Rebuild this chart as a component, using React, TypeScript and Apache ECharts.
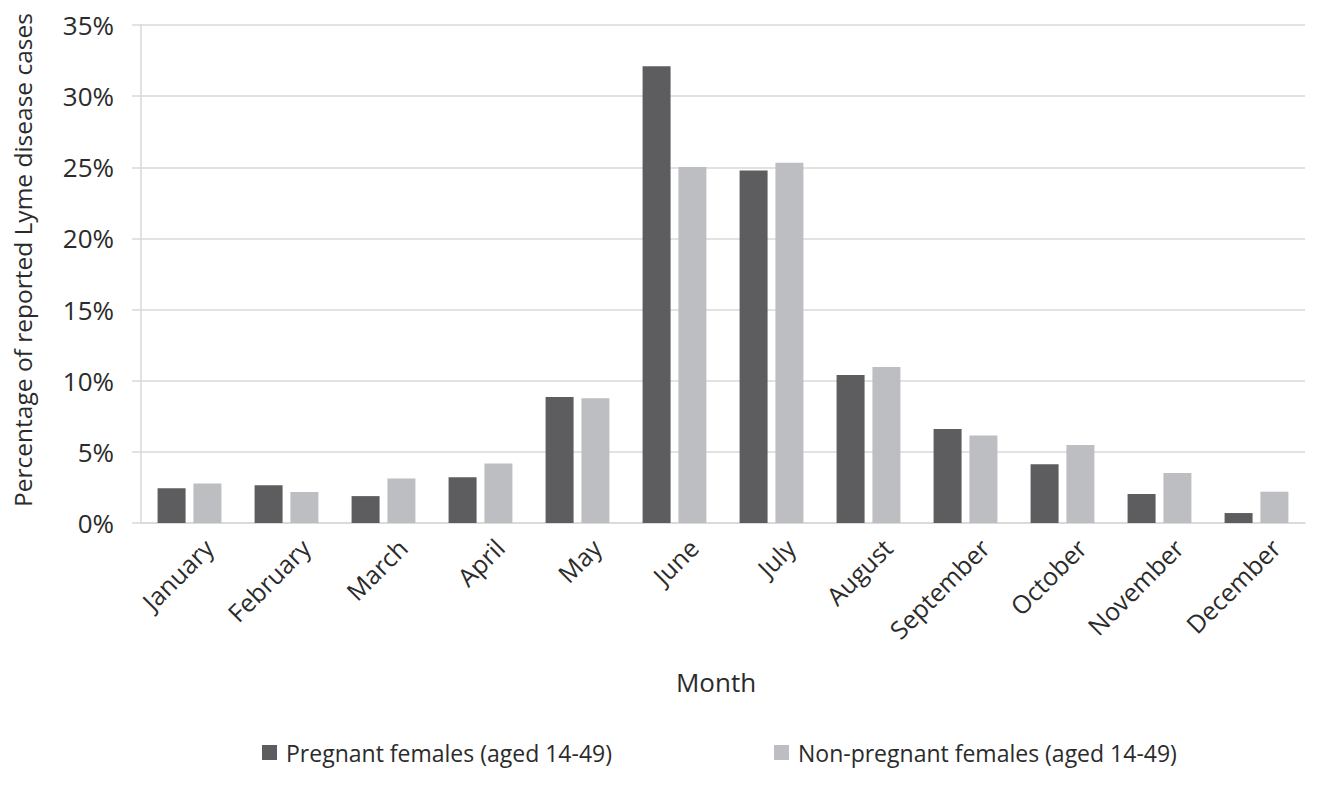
import React, { useEffect, useRef } from "react";
import * as echarts from "echarts";

const months = [
  "January", "February", "March", "April", "May", "June",
  "July", "August", "September", "October", "November", "December",
];
const pregnant = [2.44, 2.66, 1.89, 3.21, 8.85, 32.1, 24.78, 10.4, 6.6, 4.13, 2.04, 0.7];
const nonPregnant = [2.78, 2.18, 3.12, 4.18, 8.77, 25.02, 25.31, 10.96, 6.15, 5.49, 3.52, 2.2];
const seriesNames = ["Pregnant females (aged 14-49)", "Non-pregnant females (aged 14-49)"];
const yTicks = [0, 5, 10, 15, 20, 25, 30, 35];

const FONT = "'Open Sans', sans-serif";
const TEXT = "#2b2b2b";
const GRID = "#d9d9d9";

export default function App() {
  const ref = useRef<HTMLDivElement>(null);
  useEffect(() => {
    document.body.style.margin = "0";
    const chart = echarts.init(ref.current!, null, { renderer: "svg" });
    chart.setOption({
      animation: false,
      backgroundColor: "#ffffff",
      textStyle: { fontFamily: FONT, color: TEXT },
      grid: { left: 141, top: 25, width: 1164, height: 498, containLabel: false },
      legend: {
        left: 257,
        top: 736,
        padding: 5,
        itemWidth: 15,
        itemHeight: 15,
        itemGap: 162,
        icon: "rect",
        textStyle: { fontFamily: FONT, fontSize: 23, color: TEXT, padding: [0, 0, 0, 4] },
        data: seriesNames,
      },
      xAxis: {
        type: "category",
        data: months,
        name: "Month",
        nameLocation: "middle",
        nameGap: 146,
        nameTextStyle: { fontFamily: FONT, fontSize: 26, color: TEXT, padding: [0, 14, 0, 0] },
        axisLine: { lineStyle: { color: GRID, width: 1.5 } },
        axisTick: { show: false },
        axisLabel: {
          interval: 0,
          rotate: 45,
          margin: 1,
          align: "right",
          verticalAlign: "top",
          lineHeight: 54,
          fontFamily: FONT,
          fontSize: 25,
          color: TEXT,
        },
      },
      yAxis: {
        type: "value",
        min: yTicks[0],
        max: yTicks[yTicks.length - 1],
        interval: 5,
        name: "Percentage of reported Lyme disease cases",
        nameLocation: "middle",
        nameGap: 106,
        nameTextStyle: { fontFamily: FONT, fontSize: 24.5, color: TEXT, padding: [0, 0, 0, 28] },
        axisLine: { show: true, lineStyle: { color: GRID, width: 1.5 } },
        axisTick: { show: true, length: 9, lineStyle: { color: GRID, width: 1.5 } },
        splitLine: { lineStyle: { color: GRID, width: 1.5 } },
        axisLabel: {
          formatter: "{value}%",
          margin: 27,
          fontFamily: FONT,
          fontSize: 26,
          color: TEXT,
        },
      },
      series: [
        {
          name: seriesNames[0],
          type: "bar",
          data: pregnant,
          barWidth: 28,
          barGap: "28%",
          itemStyle: { color: "#5d5d5f" },
        },
        {
          name: seriesNames[1],
          type: "bar",
          data: nonPregnant,
          barWidth: 28,
          itemStyle: { color: "#bdbec1" },
        },
      ],
    });
    return () => chart.dispose();
  }, []);
  return <div ref={ref} style={{ width: 1323, height: 786 }} />;
}
